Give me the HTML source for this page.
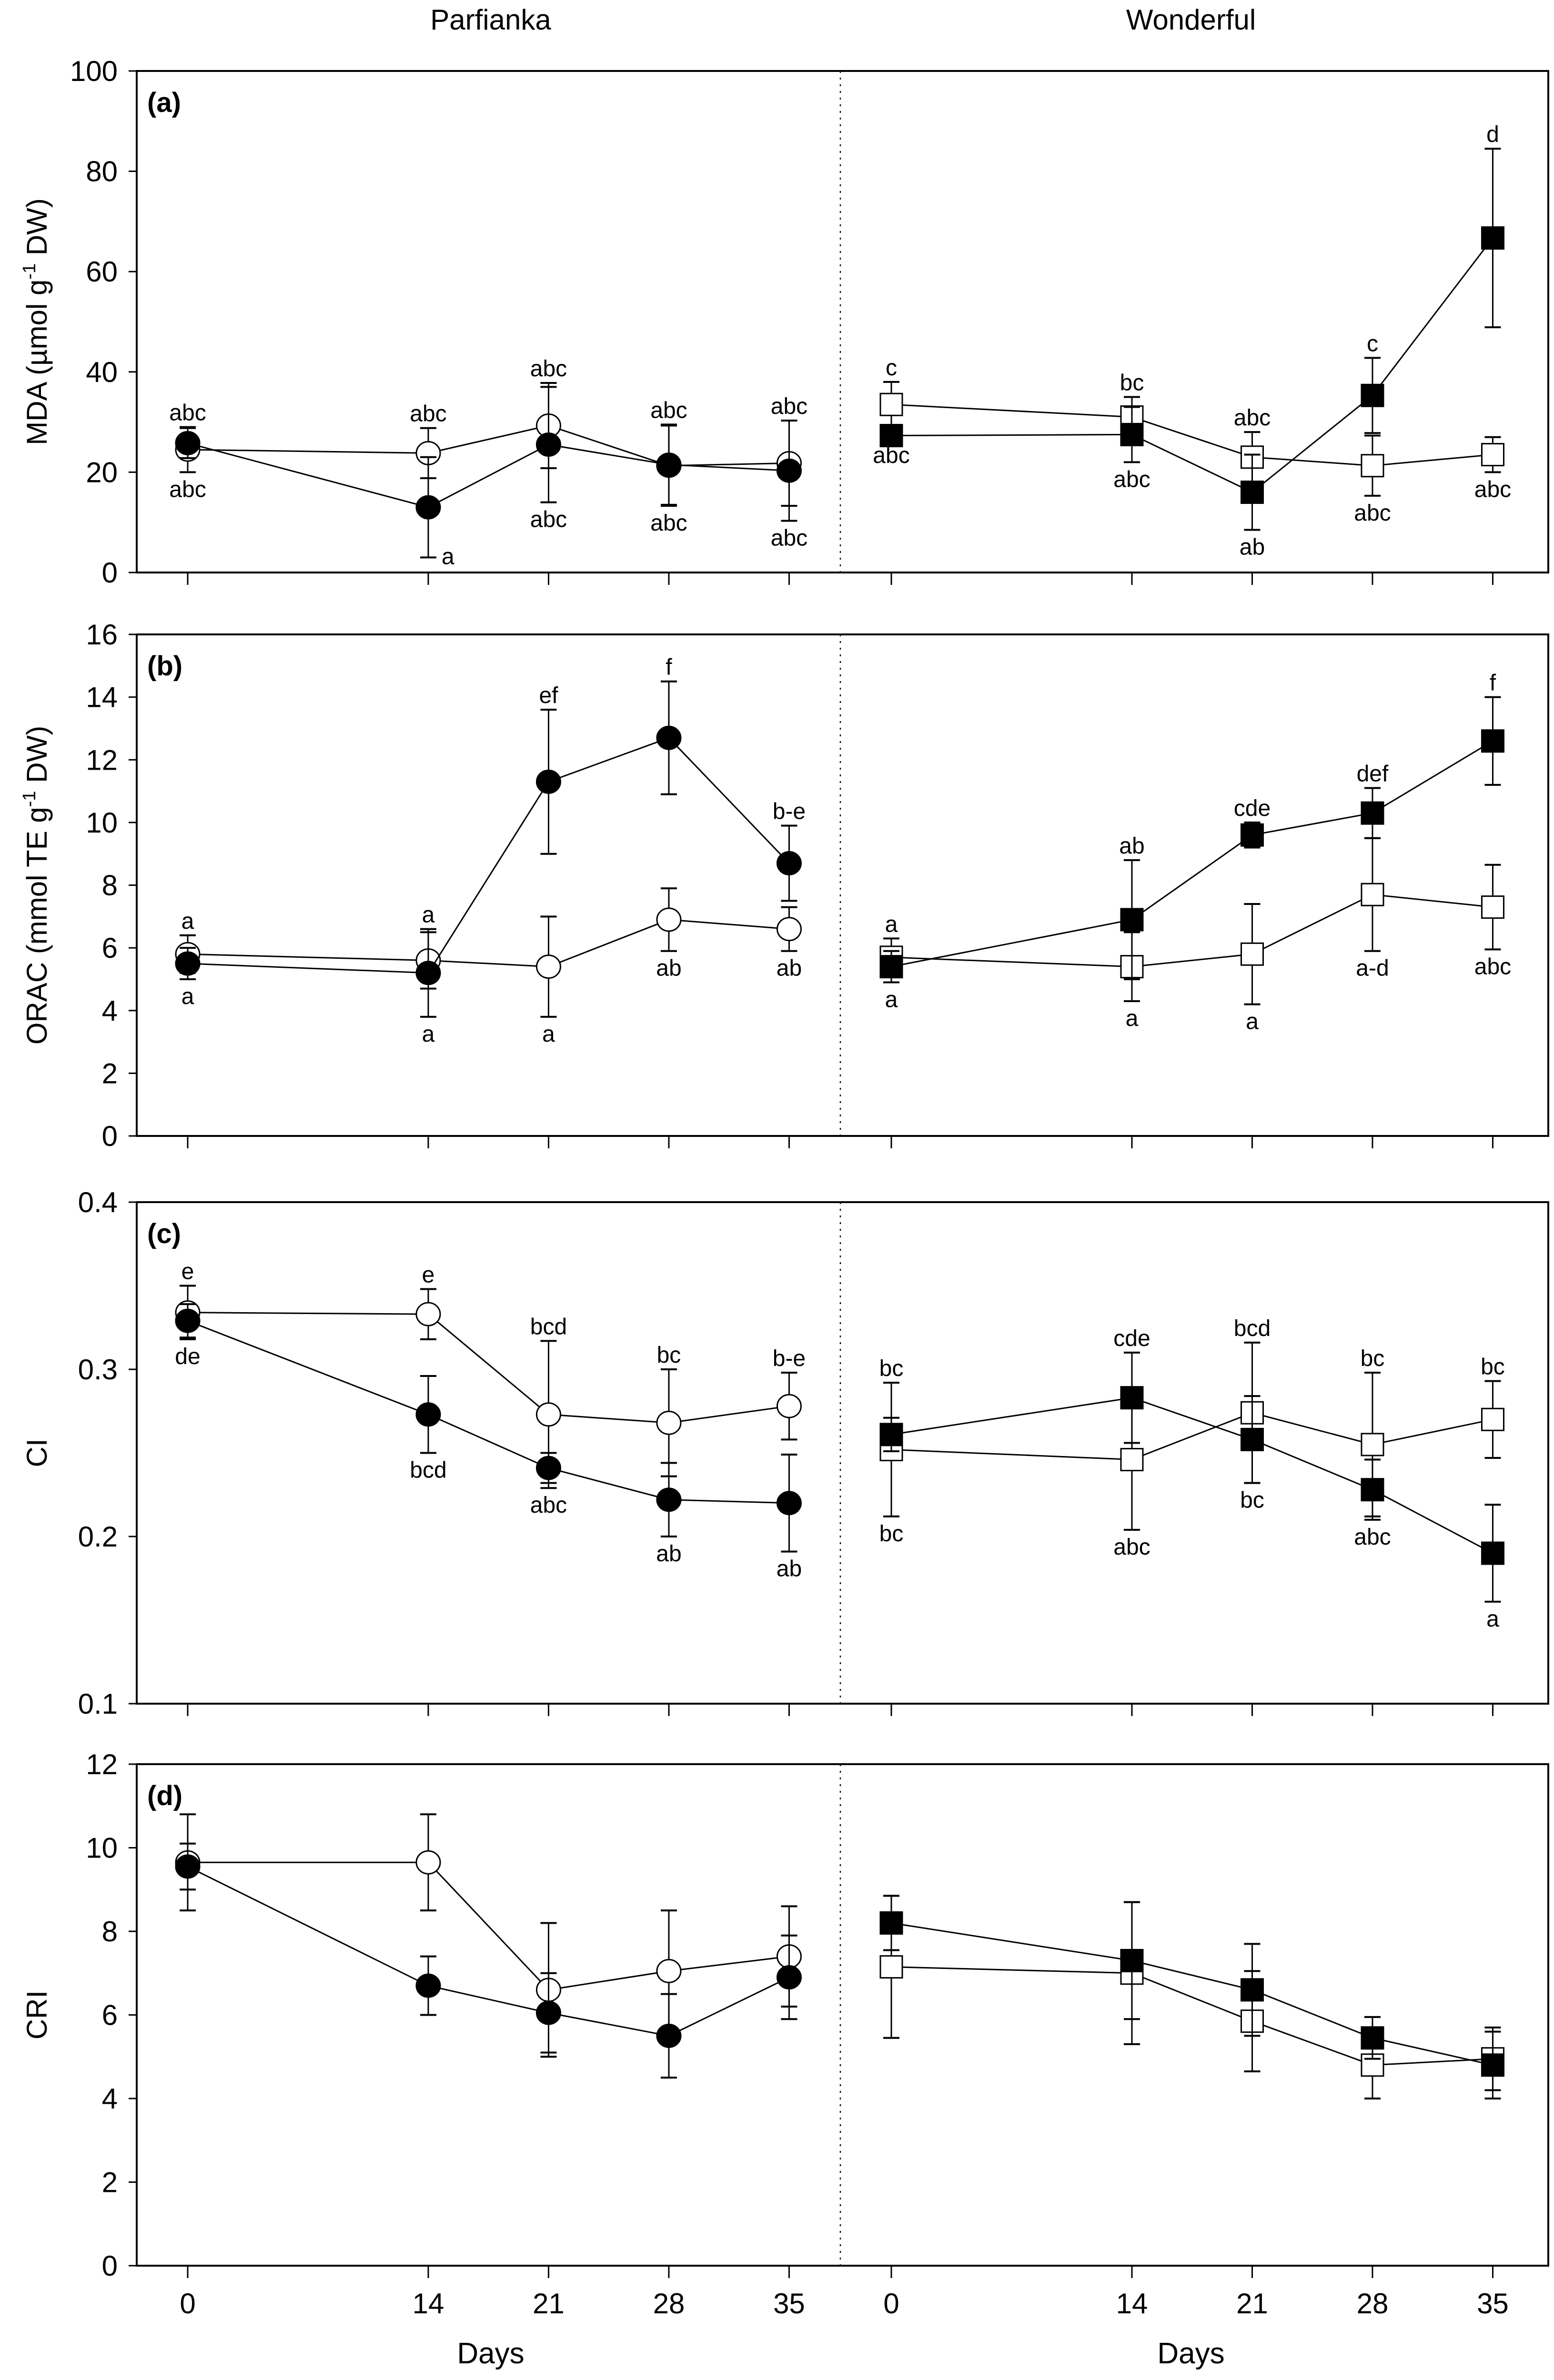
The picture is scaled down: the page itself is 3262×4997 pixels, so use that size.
<!DOCTYPE html>
<html><head><meta charset="utf-8"><style>
html,body{margin:0;padding:0;background:#fff}
svg{display:block}
text{font-family:"Liberation Sans",Arial,sans-serif;fill:#000}
</style></head><body>
<svg id="fig" width="3262" height="4997" viewBox="0 0 3262 4997" xmlns="http://www.w3.org/2000/svg">
<text x="1030" y="62" font-size="60" text-anchor="middle">Parfianka</text>
<text x="2500" y="62" font-size="60" text-anchor="middle">Wonderful</text>
</svg>
<script>
const days = [0, 14, 21, 28, 35];
// Panel (a) MDA
const mdaParfOpen = [24.5, 23.8, 29.3, 21.3, 21.8];
const mdaParfOpenErr = [4.5, 5, 8.5, 8, 8.5];
const mdaParfFill = [25.8, 13, 25.5, 21.5, 20.3];
const mdaParfFillErr = [3, 10, 11.5, 8, 10];
const mdaWondOpen = [33.5, 31, 23, 21.3, 23.5];
const mdaWondOpenErr = [4.5, 4, 5, 6, 3.5];
const mdaWondFill = [27.3, 27.5, 16, 35.3, 66.7];
const mdaWondFillErr = [0.5, 5.5, 7.5, 7.5, 17.8];
const mdaParfAbove = ["abc", "abc", "abc", "abc", "abc"];
const mdaParfBelow = ["abc", "a", "abc", "abc", "abc"];
const mdaWondAbove = ["c", "bc", "abc", "c", "d"];
const mdaWondBelow = ["abc", "abc", "ab", "abc", "abc"];
// Panel (b) ORAC
const oracParfOpen = [5.8, 5.6, 5.4, 6.9, 6.6];
const oracParfOpenErr = [0.6, 0.9, 1.6, 1.0, 0.7];
const oracParfFill = [5.5, 5.2, 11.3, 12.7, 8.7];
const oracParfFillErr = [0.5, 1.4, 2.3, 1.8, 1.2];
const oracWondOpen = [5.7, 5.4, 5.8, 7.7, 7.3];
const oracWondOpenErr = [0.6, 1.1, 1.6, 1.8, 1.35];
const oracWondFill = [5.4, 6.9, 9.6, 10.3, 12.6];
const oracWondFillErr = [0.5, 1.9, 0.4, 0.8, 1.4];
const oracParfAbove = ["a", "a", "ef", "f", "b-e"];
const oracParfBelow = ["a", "a", "a", "ab", "ab"];
const oracWondAbove = ["a", "ab", "cde", "def", "f"];
const oracWondBelow = ["a", "a", "a", "a-d", "abc"];
// Panel (c) CI
const ciParfOpen = [0.334, 0.333, 0.273, 0.268, 0.278];
const ciParfOpenErr = [0.016, 0.015, 0.044, 0.032, 0.02];
const ciParfFill = [0.329, 0.273, 0.241, 0.222, 0.220];
const ciParfFillErr = [0.01, 0.023, 0.009, 0.022, 0.029];
const ciWondOpen = [0.252, 0.246, 0.274, 0.255, 0.270];
const ciWondOpenErr = [0.04, 0.042, 0.042, 0.043, 0.023];
const ciWondFill = [0.261, 0.283, 0.258, 0.228, 0.190];
const ciWondFillErr = [0.01, 0.027, 0.026, 0.018, 0.029];
const ciParfAbove = ["e", "e", "bcd", "bc", "b-e"];
const ciParfBelow = ["de", "bcd", "abc", "ab", "ab"];
const ciWondAbove = ["bc", "cde", "bcd", "bc", "bc"];
const ciWondBelow = ["bc", "abc", "bc", "abc", "a"];
// Panel (d) CRI
const criParfOpen = [9.65, 9.65, 6.6, 7.05, 7.4];
const criParfOpenErr = [1.15, 1.15, 1.6, 1.45, 1.2];
const criParfFill = [9.55, 6.7, 6.05, 5.5, 6.9];
const criParfFillErr = [0.55, 0.7, 0.95, 1.0, 1.0];
const criWondOpen = [7.15, 7.0, 5.85, 4.8, 4.95];
const criWondOpenErr = [1.7, 1.7, 1.2, 0.8, 0.75];
const criWondFill = [8.2, 7.3, 6.6, 5.45, 4.8];
const criWondFillErr = [0.65, 1.4, 1.1, 0.5, 0.8];
const yTicksA = [0, 20, 40, 60, 80, 100];
const yTicksB = [0, 2, 4, 6, 8, 10, 12, 14, 16];
const yTicksC = [0.1, 0.2, 0.3, 0.4];
const yTicksD = [0, 2, 4, 6, 8, 10, 12];
const xTickLabels = ["0", "14", "21", "28", "35"];

const NS = "http://www.w3.org/2000/svg";
const svg = document.getElementById('fig');
function el(tag, attrs, parent) {
  const e = document.createElementNS(NS, tag);
  for (const k in attrs) e.setAttribute(k, attrs[k]);
  (parent || svg).appendChild(e);
  return e;
}
const L = 287, R = 3250, DIV = 1764;
const xLeft = d => 394 + d * 36.07;
const xRight = d => 1871 + d * 36.07;

function panel(cfg) {
  const top = cfg.top, bot = cfg.top + 1053;
  const y = v => bot - (v - cfg.min) / (cfg.max - cfg.min) * (bot - top);
  const g = el('g', {});
  
  
  const frame = el('rect', {x: L, y: top, width: R - L, height: bot - top, fill: 'none', stroke: '#000', 'stroke-width': 4}, g);
  
  
  const dv = el('line', {x1: DIV, y1: top, x2: DIV, y2: bot, stroke: '#000', 'stroke-width': 2.5, 'stroke-dasharray': '4,10'}, g);
  
  
  const lbl = el('text', {x: 309, y: top + 86, 'font-size': 58, 'font-weight': 'bold'}, g);
  lbl.textContent = '(' + cfg.id + ')';
  
  
  cfg.ticks.forEach(t => {
    el('line', {x1: L - 17, y1: y(t), x2: L, y2: y(t), stroke: '#000', 'stroke-width': 3}, g);
    const tt = el('text', {x: L - 40, y: y(t) + 21, 'font-size': 60, 'text-anchor': 'end'}, g);
    tt.textContent = cfg.fmt ? cfg.fmt(t) : String(t);
    
    
  });
  days.forEach((d, i) => {
    [xLeft(d), xRight(d)].forEach(xx => {
      el('line', {x1: xx, y1: bot, x2: xx, y2: bot + 26, stroke: '#000', 'stroke-width': 3}, g);
      if (cfg.xlabels) {
        const xt = el('text', {x: xx, y: bot + 100, 'font-size': 60, 'text-anchor': 'middle'}, g);
        xt.textContent = xTickLabels[i];
        
        
      }
    });
  });
  if (cfg.xlabels) {
    [1030, 2500].forEach(cx => {
      const dt = el('text', {x: cx, y: bot + 205, 'font-size': 62, 'text-anchor': 'middle'}, g);
      dt.textContent = 'Days';
      
      
    });
  }
  const yt = el('text', {x: 0, y: 0, 'font-size': 60, 'text-anchor': 'middle', transform: 'translate(98,' + ((top + bot) / 2) + ') rotate(-90)'}, g);
  yt.innerHTML = cfg.title;
  
  

  function series(vals, errs, xf, shape, filled, name) {
    const sg = el('g', {}, g);
    
    
    el('polyline', {points: vals.map((v, i) => xf(days[i]) + ',' + y(v)).join(' '), fill: 'none', stroke: '#000', 'stroke-width': 3}, sg);
    vals.forEach((v, i) => {
      const xx = xf(days[i]);
      const hi = y(v + errs[i]), lo = y(v - errs[i]);
      el('line', {x1: xx, y1: hi, x2: xx, y2: lo, stroke: '#000', 'stroke-width': 3}, sg);
      el('line', {x1: xx - 17, y1: hi, x2: xx + 17, y2: hi, stroke: '#000', 'stroke-width': 4}, sg);
      el('line', {x1: xx - 17, y1: lo, x2: xx + 17, y2: lo, stroke: '#000', 'stroke-width': 4}, sg);
    });
    vals.forEach((v, i) => {
      const xx = xf(days[i]);
      let m;
      if (shape === 'circle') m = el('ellipse', {cx: xx, cy: y(v), rx: 25, ry: 24, fill: filled ? '#000' : '#fff', stroke: '#000', 'stroke-width': 3}, sg);
      else m = el('rect', {x: xx - 23, y: y(v) - 23, width: 46, height: 46, fill: filled ? '#000' : '#fff', stroke: '#000', 'stroke-width': 3}, sg);
      
      
    });
  }
  series(cfg.po, cfg.poe, xLeft, 'circle', false, 'parfianka-open-series');
  series(cfg.pf, cfg.pfe, xLeft, 'circle', true, 'parfianka-filled-series');
  series(cfg.wo, cfg.woe, xRight, 'square', false, 'wonderful-open-series');
  series(cfg.wf, cfg.wfe, xRight, 'square', true, 'wonderful-filled-series');

  function letters(above, below, a, ae, b, be, xf, sideIdx) {
    if (!above) return;
    days.forEach((d, i) => {
      const xx = xf(d);
      const hi = Math.min(y(a[i] + ae[i]), y(b[i] + be[i]));
      const lo = Math.max(y(a[i] - ae[i]), y(b[i] - be[i]));
      const t1 = el('text', {x: xx, y: hi - 14, 'font-size': 48, 'text-anchor': 'middle'}, g);
      t1.textContent = above[i];
      
      
      const side = (sideIdx === i);
      const t2 = el('text', side ? {x: xx + 28, y: lo + 14, 'font-size': 48, 'text-anchor': 'start'} : {x: xx, y: lo + 52, 'font-size': 48, 'text-anchor': 'middle'}, g);
      t2.textContent = below[i];
      
      
    });
  }
  letters(cfg.pa, cfg.pb, cfg.po, cfg.poe, cfg.pf, cfg.pfe, xLeft, cfg.sideIdx);
  letters(cfg.wa, cfg.wb, cfg.wo, cfg.woe, cfg.wf, cfg.wfe, xRight, -1);
}

panel({id: 'a', top: 149, min: 0, max: 100, ticks: yTicksA, sideIdx: 1,
  title: 'MDA (µmol g<tspan dy="-24" font-size="38">-1</tspan><tspan dy="24"> DW)</tspan>',
  po: mdaParfOpen, poe: mdaParfOpenErr, pf: mdaParfFill, pfe: mdaParfFillErr,
  wo: mdaWondOpen, woe: mdaWondOpenErr, wf: mdaWondFill, wfe: mdaWondFillErr,
  pa: mdaParfAbove, pb: mdaParfBelow, wa: mdaWondAbove, wb: mdaWondBelow});
panel({id: 'b', top: 1332, min: 0, max: 16, ticks: yTicksB, sideIdx: -1,
  title: 'ORAC (mmol TE g<tspan dy="-24" font-size="38">-1</tspan><tspan dy="24"> DW)</tspan>',
  po: oracParfOpen, poe: oracParfOpenErr, pf: oracParfFill, pfe: oracParfFillErr,
  wo: oracWondOpen, woe: oracWondOpenErr, wf: oracWondFill, wfe: oracWondFillErr,
  pa: oracParfAbove, pb: oracParfBelow, wa: oracWondAbove, wb: oracWondBelow});
panel({id: 'c', top: 2524, min: 0.1, max: 0.4, ticks: yTicksC, fmt: t => t.toFixed(1), sideIdx: -1,
  title: 'CI',
  po: ciParfOpen, poe: ciParfOpenErr, pf: ciParfFill, pfe: ciParfFillErr,
  wo: ciWondOpen, woe: ciWondOpenErr, wf: ciWondFill, wfe: ciWondFillErr,
  pa: ciParfAbove, pb: ciParfBelow, wa: ciWondAbove, wb: ciWondBelow});
panel({id: 'd', top: 3704, min: 0, max: 12, ticks: yTicksD, xlabels: true,
  title: 'CRI',
  po: criParfOpen, poe: criParfOpenErr, pf: criParfFill, pfe: criParfFillErr,
  wo: criWondOpen, woe: criWondOpenErr, wf: criWondFill, wfe: criWondFillErr});
</script>
</body></html>
